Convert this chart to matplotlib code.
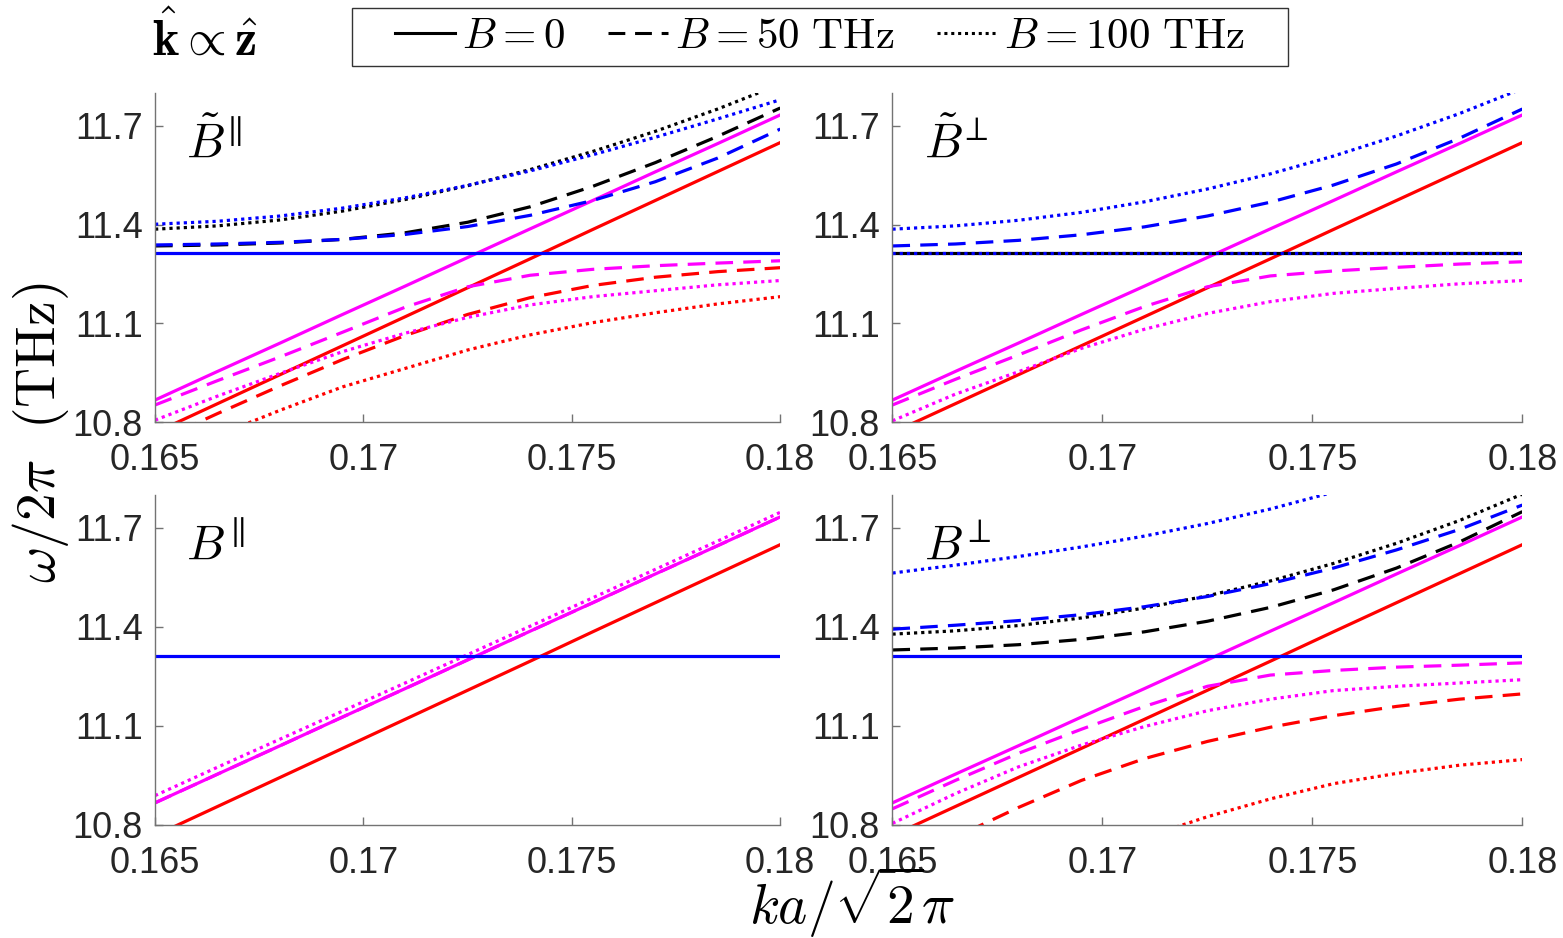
import numpy as np
import matplotlib
matplotlib.use('Agg')
import matplotlib.pyplot as plt
from matplotlib.lines import Line2D
from matplotlib.patches import Rectangle

plt.rcParams['mathtext.fontset'] = 'cm'
plt.rcParams['font.family'] = ['Liberation Sans', 'DejaVu Sans']

####################### DATA ######################################
# ka/sqrt(2)pi grid
ka = [0.165, 0.1665, 0.168, 0.1695, 0.171, 0.1725, 0.174, 0.1755, 0.177, 0.1785, 0.18]

# B = 0 branches (same in all panels)
flat_b0 = [11.313] * 11
mag_b0 = [10.867, 10.954, 11.040, 11.127, 11.213, 11.300, 11.387, 11.473, 11.560, 11.646, 11.733]
red_b0 = [10.768, 10.856, 10.944, 11.032, 11.120, 11.208, 11.296, 11.385, 11.473, 11.561, 11.649]

# top left, B tilde parallel
tl_blue_50 = [11.338, 11.341, 11.346, 11.355, 11.370, 11.394, 11.428, 11.473, 11.530, 11.602, 11.690]
tl_blue_100 = [11.401, 11.410, 11.426, 11.450, 11.481, 11.519, 11.563, 11.612, 11.665, 11.721, 11.779]
tl_black_50 = [11.335, 11.338, 11.344, 11.355, 11.375, 11.407, 11.454, 11.516, 11.588, 11.668, 11.754]
tl_black_100 = [11.386, 11.396, 11.414, 11.441, 11.476, 11.518, 11.567, 11.622, 11.683, 11.751, 11.826]
tl_mag_50 = [10.852, 10.926, 10.998, 11.073, 11.149, 11.211, 11.246, 11.264, 11.275, 11.283, 11.290]
tl_mag_100 = [10.806, 10.879, 10.948, 11.014, 11.070, 11.118, 11.156, 11.181, 11.199, 11.217, 11.230]
tl_red_50 = [10.739, 10.826, 10.910, 10.990, 11.063, 11.127, 11.178, 11.215, 11.240, 11.257, 11.269]
tl_red_100 = [10.684, 10.760, 10.836, 10.907, 10.963, 11.019, 11.065, 11.102, 11.132, 11.159, 11.181]

# top right, B tilde perp
tr_blue_50 = [11.335, 11.341, 11.352, 11.369, 11.393, 11.426, 11.468, 11.520, 11.584, 11.662, 11.751]
tr_blue_100 = [11.386, 11.396, 11.413, 11.437, 11.469, 11.508, 11.554, 11.608, 11.669, 11.737, 11.813]
tr_mag_50 = [10.852, 10.930, 11.004, 11.080, 11.151, 11.211, 11.244, 11.259, 11.270, 11.280, 11.287]
tr_mag_100 = [10.804, 10.885, 10.953, 11.024, 11.082, 11.130, 11.166, 11.191, 11.206, 11.220, 11.230]

# bottom left, B parallel
bl_mag_100 = [10.889, 10.975, 11.060, 11.145, 11.230, 11.316, 11.402, 11.488, 11.574, 11.660, 11.747]

# bottom right, B perp
br_blue_50 = [11.393, 11.405, 11.419, 11.437, 11.461, 11.492, 11.531, 11.578, 11.633, 11.695, 11.769]
br_blue_100 = [11.563, 11.587, 11.613, 11.642, 11.675, 11.713, 11.757, 11.808, 11.866, 11.931, 12.003]
br_black_50 = [11.330, 11.336, 11.346, 11.362, 11.385, 11.417, 11.459, 11.512, 11.578, 11.657, 11.749]
br_black_100 = [11.378, 11.388, 11.404, 11.427, 11.457, 11.494, 11.539, 11.592, 11.653, 11.722, 11.802]
br_mag_50 = [10.849, 10.935, 11.017, 11.090, 11.159, 11.220, 11.254, 11.268, 11.278, 11.284, 11.291]
br_mag_100 = [10.805, 10.895, 10.976, 11.042, 11.098, 11.146, 11.181, 11.207, 11.220, 11.230, 11.240]
br_red_50 = [10.671, 10.763, 10.853, 10.935, 11.001, 11.053, 11.096, 11.131, 11.159, 11.181, 11.197]
br_red_100 = [10.478, 10.549, 10.620, 10.691, 10.762, 10.825, 10.879, 10.925, 10.956, 10.981, 10.998]

xticks = [0.165, 0.17, 0.175, 0.18]
xticklabels = ['0.165', '0.17', '0.175', '0.18']
yticks = [10.8, 11.1, 11.4, 11.7]
yticklabels = ['10.8', '11.1', '11.4', '11.7']
panel_names = [r'$\tilde{B}^{\!\parallel}$', r'$\tilde{B}^{\!\perp}$',
               r'$B^{\!\parallel}$', r'$B^{\!\perp}$']

####################### PLOT ######################################
LW = 2.3
styles = {'0': '-', '50': (0, (5.5, 3.2)), '100': (0, (1, 1.25))}
blue, mag, red = (0, 0, 1), (1, 0, 1), (1, 0, 0)

# each panel: list of (y, color, B)
panels = [
    [(red_b0, red, '0'), (tl_red_50, red, '50'), (tl_red_100, red, '100'),
     (mag_b0, mag, '0'), (tl_mag_50, mag, '50'), (tl_mag_100, mag, '100'),
     (tl_black_50, 'k', '50'), (tl_black_100, 'k', '100'),
     (tl_blue_50, blue, '50'), (tl_blue_100, blue, '100'), (flat_b0, blue, '0')],
    [(red_b0, red, '0'),
     (mag_b0, mag, '0'), (tr_mag_50, mag, '50'), (tr_mag_100, mag, '100'),
     (tr_blue_50, blue, '50'), (tr_blue_100, blue, '100'),
     (flat_b0, 'k', '0'), (flat_b0, blue, '100')],
    [(red_b0, red, '0'), (mag_b0, mag, '0'), (mag_b0, mag, '50'), (bl_mag_100, mag, '100'),
     (flat_b0, blue, '0')],
    [(red_b0, red, '0'), (br_red_50, red, '50'), (br_red_100, red, '100'),
     (mag_b0, mag, '0'), (br_mag_50, mag, '50'), (br_mag_100, mag, '100'),
     (br_black_50, 'k', '50'), (br_black_100, 'k', '100'),
     (br_blue_50, blue, '50'), (br_blue_100, blue, '100'), (flat_b0, blue, '0')],
]

positions = [[0.0992, 0.550, 0.400, 0.351], [0.571, 0.550, 0.403, 0.351],
             [0.0992, 0.1205, 0.400, 0.352], [0.571, 0.1205, 0.403, 0.352]]

fig = plt.figure(figsize=(15.63, 9.38), dpi=100)

for i in range(4):
    ax = fig.add_axes(positions[i])
    for y, c, b in panels[i]:
        ax.plot(ka, y, color=c, linestyle=styles[b], linewidth=LW)
    ax.set_xlim(0.165, 0.18)
    ax.set_ylim(10.8, 11.8)
    ax.set_xticks(xticks)
    ax.set_xticklabels(xticklabels)
    ax.set_yticks(yticks)
    ax.set_yticklabels(yticklabels)
    ax.spines['top'].set_visible(False)
    ax.spines['right'].set_visible(False)
    for s in ['left', 'bottom']:
        ax.spines[s].set_color('0.45')
        ax.spines[s].set_linewidth(1.0)
    ax.tick_params(direction='in', length=6, width=1, colors='0.45',
                   labelcolor='0.15', labelsize=26)
    ax.tick_params(axis='x', pad=15)
    ax.tick_params(axis='y', pad=9)
    ax.text(0.05, 0.80, panel_names[i], transform=ax.transAxes,
            fontsize=35, ha='left', va='baseline')

# axis labels
fig.text(0.026, 0.539, r'$\omega/2\pi\ \ (\mathrm{THz})$', rotation=90,
         fontsize=40, ha='center', va='center')
fig.text(0.545, 0.038, r'$ka/\sqrt{2}\pi$', fontsize=40, ha='center', va='center')

# legend (frame drawn separately, it is wider than the entries)
handles = [Line2D([], [], color='k', linestyle=styles[b], linewidth=2.2) for b in ['0', '50', '100']]
labels = [r'$B=0$', r'$B=50\ \mathrm{THz}$', r'$B=100\ \mathrm{THz}$']
leg = fig.legend(handles, labels, loc='center', bbox_to_anchor=(0.5246, 0.9605),
                 ncol=3, fontsize=31, handlelength=1.4, handletextpad=0.15,
                 columnspacing=1.0, borderpad=0.1, borderaxespad=0.0,
                 frameon=False)
fig.patches.append(Rectangle((352 / 1563, 1 - 66 / 938), 936 / 1563, 58 / 938,
                             transform=fig.transFigure, fill=False,
                             edgecolor='0.2', linewidth=1.0))

fig.text(0.131, 0.959, r'$\hat{\mathbf{k}}\propto\hat{\mathbf{z}}$', fontsize=36,
         ha='center', va='center')

plt.savefig('out.png', dpi=100)
